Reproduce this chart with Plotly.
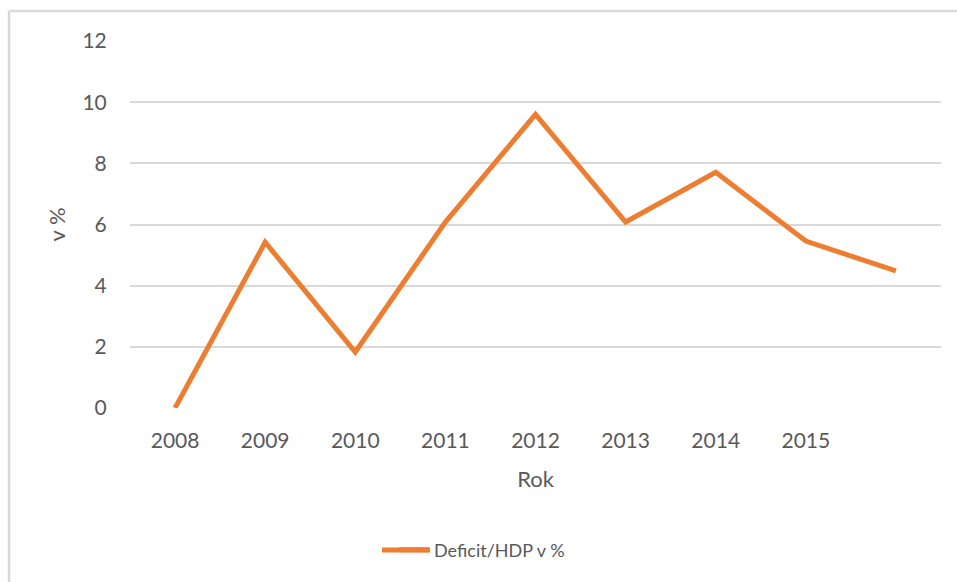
import plotly.graph_objects as go

years = [2008, 2009, 2010, 2011, 2012, 2013, 2014, 2015, 2016]
tick_labels = ["2008", "2009", "2010", "2011", "2012", "2013", "2014", "2015", ""]
deficit = [0.0, 5.42, 1.83, 6.08, 9.6, 6.08, 7.71, 5.46, 4.48]
series_name = "Deficit/HDP v %"

W, H = 957, 582
L, R, T, B = 130, 16, 41, 174
pw, ph = W - L - R, H - T - B

def px(x):
    return (x - L) / pw

def py(y):
    return (H - B - y) / ph

ORANGE = "#ED7D31"
BORDER = "#D9D9D9"
fig = go.Figure()
fig.add_trace(go.Scatter(
    x=years, y=deficit, mode="lines", name=series_name,
    line=dict(color=ORANGE, width=5, shape="linear"),
))

font = "Lato, 'Open Sans', sans-serif"
fig.update_layout(
    width=W, height=H,
    margin=dict(l=L, r=R, t=T, b=B, autoexpand=False),
    paper_bgcolor="white", plot_bgcolor="white",
    font=dict(family=font, size=21, color="#595959"),
    showlegend=True,
    legend=dict(orientation="h", x=px(394), xanchor="left", y=py(550), yanchor="middle",
                font=dict(size=18, color="#595959"), bgcolor="rgba(0,0,0,0)"),
    xaxis=dict(
        range=[2007.5, 2016.5], tickmode="array", tickvals=years, ticktext=tick_labels,
        showgrid=False, zeroline=False, showline=False,
        ticks="outside", ticklen=14, tickcolor="rgba(0,0,0,0)",
        title=dict(text="Rok", standoff=20, font=dict(size=22, color="#595959")),
    ),
    yaxis=dict(
        range=[0, 12], tickmode="array", tickvals=[0, 2, 4, 6, 8, 10, 12],
        showgrid=True, gridcolor="#D9D9D9", gridwidth=2, zeroline=False, showline=False,
        ticks="outside", ticklen=18, tickcolor="rgba(0,0,0,0)",
        title=dict(text="v %", standoff=10, font=dict(size=22, color="#595959")),
    ),
    shapes=[
        dict(type="line", xref="paper", yref="paper",
             x0=px(9), x1=px(9), y0=py(H + 5), y1=py(11),
             line=dict(color=BORDER, width=2.5), layer="below"),
        dict(type="line", xref="paper", yref="paper",
             x0=px(9), x1=px(W + 5), y0=py(11), y1=py(11),
             line=dict(color=BORDER, width=2.5), layer="below"),
        dict(type="line", xref="paper", yref="paper",
             x0=px(382), x1=px(430), y0=py(550), y1=py(550),
             line=dict(color=ORANGE, width=5)),
    ],
)
fig.write_html(
    "out.html",
    config={"displayModeBar": False},
    post_script=(
        "document.documentElement.style.margin='0';"
        "document.documentElement.style.overflow='hidden';"
        "document.body.style.margin='0';"
        "document.body.style.overflow='hidden';"
    ),
)
